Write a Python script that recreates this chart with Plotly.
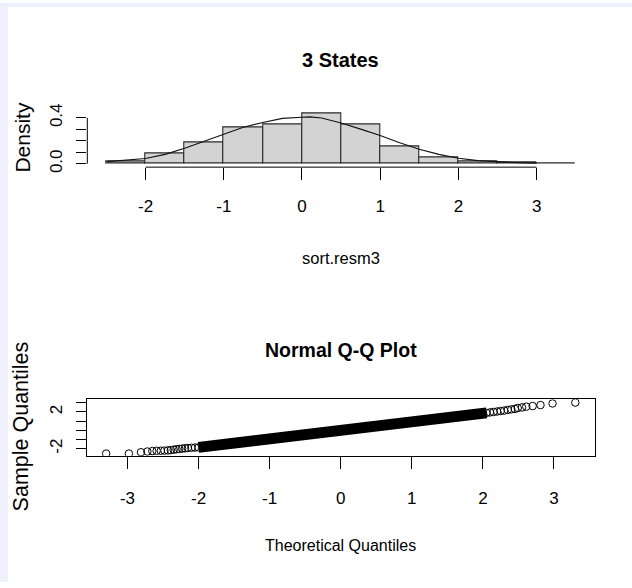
import plotly.graph_objects as go

W, H = 632, 588

# ---------------- data ----------------
# histogram of sort.resm3 (breaks and densities)
hist_breaks = [-2.5, -2.0, -1.5, -1.0, -0.5, 0.0, 0.5, 1.0, 1.5, 2.0, 2.5, 3.0, 3.5]
hist_density = [0.02, 0.094, 0.19, 0.317, 0.343, 0.443, 0.34, 0.154, 0.054, 0.02, 0.008, 0.002]

# overlaid normal density curve
curve_x = [-2.49, -2.25, -2.0, -1.75, -1.5, -1.25, -1.0, -0.75, -0.5, -0.25,
           0.0, 0.1, 0.25, 0.5, 0.75, 1.0, 1.25, 1.5, 1.75, 2.0, 2.25, 2.5, 2.75, 3.0]
curve_y = [0.019, 0.03, 0.046, 0.082, 0.135, 0.196, 0.26, 0.318, 0.36, 0.395,
           0.405, 0.408, 0.398, 0.355, 0.302, 0.247, 0.183, 0.127, 0.082, 0.048,
           0.028, 0.016, 0.009, 0.005]

# Normal Q-Q plot: theoretical vs sample quantiles
qq_theor = [-3.30, -2.98, -2.81, -2.72, -2.65, -2.59, -2.53, -2.48, -2.43, -2.39,
            -2.35, -2.31, -2.27, -2.23, -2.19, -2.15, -2.10, -2.05,
            -2.0, -1.75, -1.5, -1.25, -1.0, -0.75, -0.5, -0.25, 0.0, 0.25, 0.5,
            0.75, 1.0, 1.25, 1.5, 1.75, 2.0,
            2.05, 2.10, 2.15, 2.20, 2.25, 2.30, 2.35, 2.40, 2.45, 2.49, 2.55,
            2.61, 2.70, 2.81, 2.98, 3.30]
qq_sample = [-2.52, -2.52, -2.38, -2.30, -2.25, -2.22, -2.21, -2.20, -2.18, -2.15,
             -2.10, -2.05, -2.02, -1.98, -1.95, -1.92, -1.89, -1.87,
             -1.85, -1.63, -1.41, -1.19, -0.97, -0.73, -0.50, -0.26, -0.02, 0.22, 0.45,
             0.68, 0.92, 1.16, 1.40, 1.62, 1.85,
             1.90, 1.95, 2.00, 2.05, 2.10, 2.15, 2.22, 2.28, 2.33, 2.43, 2.49,
             2.57, 2.64, 2.75, 2.92, 3.02]
band_lo, band_hi = -2.0, 2.05   # range where the circles merge into a solid band

hist_xticks = [-2, -1, 0, 1, 2, 3]
hist_yticks = [0.0, 0.1, 0.2, 0.3, 0.4]
hist_ytext = ["0.0", "", "", "", "0.4"]
qq_xticks = [-3, -2, -1, 0, 1, 2, 3]
qq_yticks = [-2, -1, 0, 1, 2, 3]
qq_ytext = ["-2", "", "", "", "2", ""]

# ---------------- layout helpers ----------------
def fx(px):
    return px / W

def fy(py):
    return 1 - py / H

FONT = "Liberation Sans, Arial, sans-serif"

fig = go.Figure()

mids = [(a + b) / 2 for a, b in zip(hist_breaks[:-1], hist_breaks[1:])]
widths = [b - a for a, b in zip(hist_breaks[:-1], hist_breaks[1:])]
fig.add_trace(go.Bar(x=mids, y=hist_density, width=widths,
                     marker=dict(color="#d3d3d3", line=dict(color="#2a2a2a", width=1.1)),
                     xaxis="x", yaxis="y", showlegend=False, hoverinfo="skip"))
fig.add_trace(go.Scatter(x=curve_x, y=curve_y, mode="lines",
                         line=dict(color="#111111", width=1.1),
                         xaxis="x", yaxis="y", showlegend=False))

band_x = [t for t in qq_theor if band_lo <= t <= band_hi]
band_y = [s for t, s in zip(qq_theor, qq_sample) if band_lo <= t <= band_hi]
fig.add_trace(go.Scatter(x=band_x, y=band_y, mode="lines",
                         line=dict(color="black", width=11),
                         xaxis="x2", yaxis="y2", showlegend=False))
fig.add_trace(go.Scatter(x=qq_theor, y=qq_sample, mode="markers",
                         marker=dict(symbol="circle-open", size=7.5, color="black",
                                     line=dict(width=1, color="black")),
                         xaxis="x2", yaxis="y2", showlegend=False))

tickfont_h = dict(family=FONT, size=17, color="black")
tickfont_v = dict(family=FONT, size=17, color="black")

fig.update_layout(
    width=W, height=H,
    margin=dict(l=0, r=0, t=0, b=0),
    paper_bgcolor="white", plot_bgcolor="white",
    bargap=0,
    xaxis=dict(domain=[fx(87.3), fx(594.5)], range=[-2.745, 3.74],
               tickvals=hist_xticks, ticktext=[str(t) for t in hist_xticks],
               ticks="outside", ticklen=12, tickwidth=1,
               tickcolor="black", showgrid=False, zeroline=False, showline=False,
               tickfont=tickfont_h, anchor="y", ticklabelstandoff=11),
    yaxis=dict(domain=[fy(166.7), fy(105)], range=[-0.0291, 0.4996],
               tickvals=hist_yticks, ticktext=hist_ytext, ticks="outside", ticklen=10,
               tickwidth=1, tickcolor="black", showgrid=False, zeroline=False,
               showline=False, tickangle=-90, tickfont=tickfont_v, anchor="x",
               ticklabelstandoff=8),
    xaxis2=dict(domain=[fx(87.3), fx(594.5)], range=[-3.565, 3.57],
                tickvals=qq_xticks, ticktext=[str(t) for t in qq_xticks],
                ticks="outside", ticklen=12, tickwidth=1,
                tickcolor="black", showgrid=False, zeroline=False, showline=True,
                linecolor="black", linewidth=1, mirror=True,
                tickfont=tickfont_h, anchor="y2", ticklabelstandoff=15),
    yaxis2=dict(domain=[fy(459.7), fy(402.5)], range=[-2.75, 3.37],
                tickvals=qq_yticks, ticktext=qq_ytext, ticks="outside", ticklen=10,
                tickwidth=1, tickcolor="black", showgrid=False, zeroline=False,
                showline=True, linecolor="black", linewidth=1, mirror=True,
                tickangle=-90, tickfont=tickfont_v, anchor="x2",
                ticklabelstandoff=8),
)

# R-style axis lines spanning only the tick range on the histogram
fig.add_shape(type="line", xref="x", yref="y domain",
              x0=min(hist_xticks), x1=max(hist_xticks), y0=0, y1=0,
              line=dict(color="black", width=1))
fig.add_shape(type="line", xref="x domain", yref="y",
              x0=0, x1=0, y0=min(hist_yticks), y1=max(hist_yticks),
              line=dict(color="black", width=1))

# light border strips of the page
fig.add_shape(type="rect", xref="paper", yref="paper", x0=0, x1=fx(8), y0=0, y1=1,
              fillcolor="#eff0fb", line=dict(width=0), layer="below")
fig.add_shape(type="rect", xref="paper", yref="paper", x0=0, x1=1, y0=fy(4), y1=1,
              fillcolor="#eff0fb", line=dict(width=0), layer="below")

cx = (87.3 + 594.5) / 2
ann = [
    ("<b>3 States</b>", cx, 58, 0, 20),
    ("sort.resm3", cx, 259, 0, 16.5),
    ("Density", 23, 136.7, -90, 21),
    ("<b>Normal Q-Q Plot</b>", cx, 352, 0, 19.5),
    ("Theoretical Quantiles", cx, 551, 0, 16),
    ("Sample Quantiles", 21, 430, -90, 21.5),
]
for text, x, y, ang, size in ann:
    fig.add_annotation(text=text, x=fx(x), y=fy(y), xref="paper", yref="paper",
                       xanchor="center", yanchor="middle", showarrow=False,
                       textangle=ang, font=dict(family=FONT, size=size, color="black"))

fig.write_html("out.html")
